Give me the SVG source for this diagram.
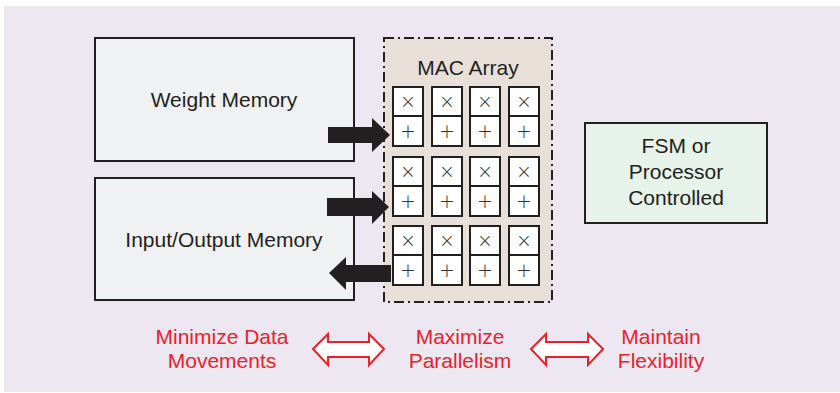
<svg xmlns="http://www.w3.org/2000/svg" width="840" height="393" viewBox="0 0 840 393">
<defs>
<style>
.bg{fill:#ede7f2}
.mem{fill:#f0f1f3;stroke:#231f20;stroke-width:2}
.mac{fill:#e9dfd9;stroke:#231f20;stroke-width:2;stroke-dasharray:10 4 2 4}
.fsm{fill:#e6f2ea;stroke:#231f20;stroke-width:2}
.cell{fill:#ffffff;stroke:#231f20;stroke-width:2}
.t{font-family:"Liberation Sans",Arial,sans-serif;font-size:21px;fill:#231f20;text-anchor:middle}
.op{font-family:"DejaVu Sans",sans-serif;font-size:19px;font-weight:300;fill:#333333;text-anchor:middle}
.r{font-family:"Liberation Sans",Arial,sans-serif;font-size:21px;fill:#e8222b;text-anchor:middle}
.ra{fill:#ffffff;stroke:#e8222b;stroke-width:2}
.ba{fill:#231f20}
</style>
<g id="pe">
<rect class="cell" x="0" y="0" width="30" height="29"/>
<rect class="cell" x="0" y="29" width="30" height="30"/>
<text class="op" x="15" y="21">×</text>
<text class="op" x="15" y="51">+</text>
</g>
</defs>
<rect class="bg" x="4" y="6" width="836" height="386"/>

<g id="weight-memory">
<rect class="mem" x="95" y="38" width="259" height="123"/>
<text class="t" x="224" y="107">Weight Memory</text>
</g>

<g id="io-memory">
<rect class="mem" x="95" y="178" width="259" height="122"/>
<text class="t" x="224" y="247">Input/Output Memory</text>
</g>

<g id="mac-array">
<rect class="mac" x="384" y="38" width="168" height="264"/>
<text class="t" x="468" y="75">MAC Array</text>
<use href="#pe" x="393" y="87"/>
<use href="#pe" x="432" y="87"/>
<use href="#pe" x="470" y="87"/>
<use href="#pe" x="509" y="87"/>
<use href="#pe" x="393" y="157"/>
<use href="#pe" x="432" y="157"/>
<use href="#pe" x="470" y="157"/>
<use href="#pe" x="509" y="157"/>
<use href="#pe" x="393" y="226"/>
<use href="#pe" x="432" y="226"/>
<use href="#pe" x="470" y="226"/>
<use href="#pe" x="509" y="226"/>
</g>

<g id="fsm">
<rect class="fsm" x="585" y="123" width="182" height="100"/>
<text class="t" x="676" y="153">FSM or</text>
<text class="t" x="676" y="179">Processor</text>
<text class="t" x="676" y="205">Controlled</text>
</g>

<g id="connectors">
<polygon class="ba" points="328,127 372,127 372,118 390,135 372,152 372,143 328,143"/>
<polygon class="ba" points="327,198 372,198 372,191 389,207 372,224 372,216 327,216"/>
<polygon class="ba" points="391,265 346,265 346,257 329,273 346,290 346,282 391,282"/>
<polygon class="ra" points="313,349 328,334 328,342 369,342 369,334 384,349 369,365 369,357 328,357 328,365"/>
<polygon class="ra" points="531,349 546,334 546,342 588,342 588,334 603,349 588,365 588,357 546,357 546,365"/>
</g>

<g id="goal-data">
<text class="r" x="222" y="344">Minimize Data</text>
<text class="r" x="222" y="368">Movements</text>
</g>
<g id="goal-parallel">
<text class="r" x="460" y="344">Maximize</text>
<text class="r" x="460" y="368">Parallelism</text>
</g>
<g id="goal-flex">
<text class="r" x="661" y="344">Maintain</text>
<text class="r" x="661" y="368">Flexibility</text>
</g>
</svg>
